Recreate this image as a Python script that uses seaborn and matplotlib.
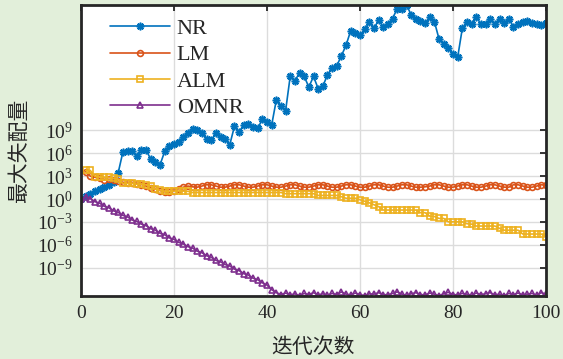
import numpy as np
import pandas as pd
import matplotlib
matplotlib.use('Agg')
import matplotlib.pyplot as plt
import seaborn as sns


# iteration index
iters = np.arange(0, 101)        # NR / OMNR start at iteration 0
iters_lm = np.arange(1, 101)     # LM / ALM start at iteration 1

# values as log10(max mismatch)
nr_exp = [0.0, 0.35, 0.7, 1.0, 1.3, 1.6, 1.9, 2.25, 3.45, 6.15,
          6.35, 6.25, 5.7, 6.45, 6.4, 5.25, 4.8, 4.5, 6.25, 7.0,
          7.2, 7.45, 8.2, 8.65, 9.25, 9.0, 8.65, 7.85, 7.7, 8.65,
          8.15, 7.85, 7.15, 9.55, 8.85, 9.7, 9.9, 9.5, 9.3, 10.45,
          10.15, 9.7, 13.0, 12.2, 11.6, 16.15, 15.5, 16.6, 16.1, 14.7,
          16.1, 14.5, 14.8, 16.3, 17.2, 17.5, 18.8, 20.2, 22.1, 21.8,
          21.5, 22.3, 23.2, 22.4, 23.5, 22.6, 23.0, 23.7, 25.0, 24.9,
          25.48, 24.2, 23.7, 23.4, 23.1, 23.9, 23.3, 21.0, 20.4, 19.8,
          19.1, 18.6, 22.4, 23.3, 23.0, 23.9, 23.0, 23.0, 23.6, 23.0,
          23.7, 23.1, 23.7, 22.6, 23.0, 23.3, 23.4, 23.15, 23.0, 22.85,
          23.15]

lm_exp = [3.6, 3.0, 2.85, 2.7, 2.5, 2.6, 2.45, 2.3, 2.2, 2.1,
          2.1, 2.0, 1.9, 1.7, 1.5, 1.3, 1.1, 0.95, 0.9, 1.1,
          1.35, 1.55, 1.7, 1.6, 1.55, 1.7, 1.87, 1.87, 1.7, 1.55,
          1.55, 1.7, 1.87, 1.87, 1.7, 1.55, 1.55, 1.7, 1.87, 1.87,
          1.7, 1.55, 1.55, 1.7, 1.87, 1.87, 1.7, 1.55, 1.55, 1.7,
          1.87, 1.87, 1.7, 1.55, 1.55, 1.7, 1.87, 1.87, 1.7, 1.55,
          1.55, 1.7, 1.87, 1.87, 1.7, 1.55, 1.55, 1.7, 1.87, 1.87,
          1.7, 1.55, 1.55, 1.6, 1.7, 1.87, 1.87, 1.7, 1.55, 1.55,
          1.7, 1.87, 1.87, 1.7, 1.55, 1.55, 1.7, 1.87, 1.87, 1.7,
          1.55, 1.55, 1.87, 1.87, 1.7, 1.55, 1.55, 1.7, 1.87, 1.8]

alm_exp = [3.75, 3.75, 2.95, 2.95, 2.85, 2.85, 2.7, 2.6, 2.05, 2.05,
           2.05, 1.95, 1.95, 1.85, 1.7, 1.3, 1.15, 1.0, 1.0, 1.05,
           1.05, 1.05, 1.0, 0.85, 0.85, 0.85, 0.85, 0.85, 0.85, 0.85,
           0.85, 0.85, 0.85, 0.85, 0.85, 0.85, 0.85, 0.85, 0.85, 0.85,
           0.85, 0.85, 0.85, 0.7, 0.7, 0.7, 0.7, 0.7, 0.7, 0.7,
           0.47, 0.47, 0.47, 0.47, 0.47, 0.3, 0.1, 0.1, 0.1, -0.1,
           -0.3, -0.5, -0.75, -1.0, -1.45, -1.45, -1.45, -1.45, -1.45, -1.45,
           -1.45, -1.45, -1.8, -1.8, -2.25, -2.3, -2.55, -2.55, -3.0, -3.0,
           -3.0, -3.0, -3.25, -3.3, -3.55, -3.55, -3.55, -3.55, -3.55, -3.85,
           -4.1, -4.1, -4.1, -4.1, -4.6, -4.6, -4.6, -4.6, -4.6, -4.95]

omnr_exp = [0.05, 0.2, 0.05, -0.35, -0.55, -0.95, -1.15, -1.55, -1.75, -2.15,
            -2.35, -2.75, -2.95, -3.3, -3.5, -3.9, -4.1, -4.5, -4.7, -5.1,
            -5.3, -5.7, -5.9, -6.25, -6.45, -6.85, -7.05, -7.45, -7.65, -8.05,
            -8.25, -8.6, -8.8, -9.2, -9.4, -9.8, -10.0, -10.4, -10.6, -11.0,
            -11.3, -11.9, -12.3, -12.55, -12.35, -12.6, -12.45, -12.7, -12.4, -12.55,
            -12.3, -12.6, -12.45, -12.65, -12.4, -12.55, -12.2, -12.5, -12.6, -12.35,
            -12.55, -12.7, -12.45, -12.5, -12.3, -12.55, -12.6, -12.4, -12.2, -12.5,
            -12.65, -12.45, -12.3, -12.55, -12.6, -12.35, -12.5, -12.7, -12.45, -12.25,
            -12.55, -12.6, -12.4, -12.5, -12.65, -12.35, -12.55, -12.45, -12.3, -12.6,
            -12.5, -12.7, -12.4, -12.55, -12.35, -12.6, -12.5, -12.4, -12.65, -12.3,
            -12.5]

series_names = ['NR', 'LM', 'ALM', 'OMNR']
series_colors = ['#0072BD', '#D95319', '#EDB120', '#7E2F8E']
series_markers = [(8, 2, 0), 'o', 's', '^']
marker_sizes = [5.5, 4.2, 3.8, 4.6]

y_tick_exp = [-9, -6, -3, 0, 3, 6, 9]
x_ticks = [0, 20, 40, 60, 80, 100]

x_label = '迭代次数'
y_label = '最大失配量'


def build_df() -> pd.DataFrame:
    parts = []
    for name, x, e in zip(series_names,
                          [iters, iters_lm, iters_lm, iters],
                          [nr_exp, lm_exp, alm_exp, omnr_exp]):
        parts.append(pd.DataFrame({'iter': x,
                                   'mismatch': 10.0 ** np.asarray(e),
                                   'method': name}))
    return pd.concat(parts, ignore_index=True)


def make_plot(df: pd.DataFrame) -> None:
    sns.set_style('white')
    plt.rcParams['font.family'] = ['Liberation Serif', 'Noto Sans CJK SC']
    plt.rcParams['mathtext.fontset'] = 'stix'

    fig = plt.figure(figsize=(5.63, 3.59), dpi=100, facecolor='#E2EFDA')
    ax = fig.add_axes([81 / 563, 1 - 295.7 / 359, 465 / 563, 290.7 / 359])
    ax.set_facecolor('white')
    ax.set_yscale('log')

    for name, color, mk, ms in zip(series_names, series_colors, series_markers, marker_sizes):
        sub = df[df.method == name]
        sns.lineplot(x=sub['iter'], y=sub['mismatch'], ax=ax,
                     color=color, marker=mk, markersize=ms,
                     markerfacecolor='none', markeredgecolor=color,
                     markeredgewidth=1.2, linewidth=1.2, label=name,
                     estimator=None, sort=False)

    # tight limits like the original
    ax.set_xlim(0, 100)
    lo = df['mismatch'].min()
    hi = df['mismatch'].max()
    ax.set_ylim(lo, hi)

    ax.set_xticks(x_ticks)
    ax.set_yticks([10.0 ** e for e in y_tick_exp])
    ax.yaxis.set_minor_locator(matplotlib.ticker.NullLocator())
    ax.xaxis.set_minor_locator(matplotlib.ticker.NullLocator())

    ax.grid(True, color='#DCDCDC', linewidth=1.0)
    ax.set_axisbelow(True)
    ax.tick_params(direction='in', length=4, width=1.3, top=True, right=True,
                   labelsize=14, colors='#262626')
    ax.tick_params(axis='x', pad=7)
    ax.tick_params(axis='y', pad=6)
    for s in ax.spines.values():
        s.set_linewidth(2.0)
        s.set_color('#262626')

    ax.set_xlabel(x_label, fontsize=15, family=['Noto Sans CJK SC'], color='#262626')
    ax.set_ylabel(y_label, fontsize=15, family=['Noto Sans CJK SC'], color='#262626')
    ax.xaxis.set_label_coords(0.5, -0.14)
    ax.yaxis.set_label_coords(-0.11, 0.5)

    ax.legend(loc='upper left', bbox_to_anchor=((110 - 81) / 465, 1 - (18.5 - 5) / 290.7),
              frameon=False, fontsize=16, handlelength=2.7, handletextpad=0.3,
              labelspacing=0.26, borderpad=0, borderaxespad=0)

    fig.savefig('out.png', dpi=100, facecolor=fig.get_facecolor())


if __name__ == '__main__':
    df = build_df()
    make_plot(df)
